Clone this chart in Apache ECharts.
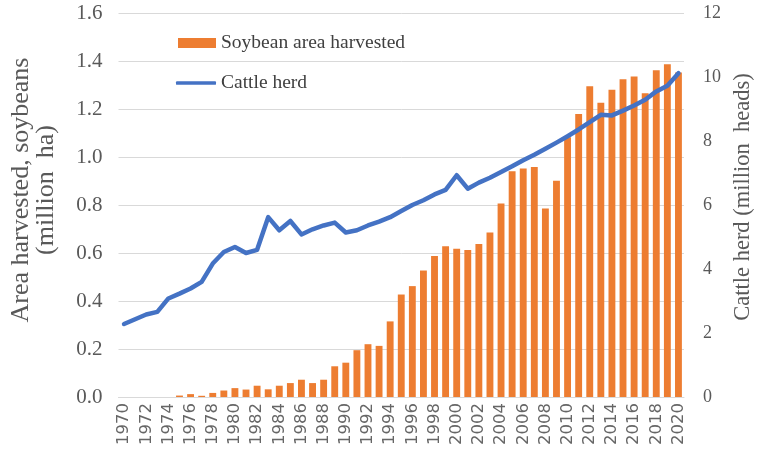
<!DOCTYPE html>
<html>
<head>
<meta charset="utf-8">
<script src="https://cdn.jsdelivr.net/npm/echarts@6/dist/echarts.min.js"></script>
<style>
  html, body { margin: 0; padding: 0; background: #fff; }
  #chart { width: 765px; height: 454px; }
</style>
</head>
<body>
<div id="chart"></div>
<script>
// years 1970 - 2020
var years = [];
for (var y = 1970; y <= 2020; y++) { years.push(String(y)); }

// soybean area harvested, million ha
var soyArea = [
    0, 0, 0, 0, 0,
    0.006, 0.012, 0.005, 0.017, 0.027,
    0.037, 0.031, 0.047, 0.032, 0.047,
    0.058, 0.072, 0.058, 0.072, 0.128,
    0.143, 0.195, 0.22, 0.213, 0.315,
    0.427, 0.462, 0.527, 0.587, 0.628,
    0.618, 0.613, 0.638, 0.685, 0.806,
    0.941, 0.952, 0.958, 0.785, 0.901,
    1.082, 1.179, 1.295, 1.226, 1.28,
    1.324, 1.335, 1.266, 1.361, 1.386,
    1.352
];

// cattle herd, million heads
var cattle = [
    2.28, 2.43, 2.58, 2.66, 3.08,
    3.23, 3.39, 3.6, 4.17, 4.53,
    4.69, 4.5, 4.6, 5.62, 5.21,
    5.5, 5.08, 5.24, 5.36, 5.45,
    5.14, 5.21, 5.36, 5.48, 5.62,
    5.81, 6.0, 6.15, 6.33, 6.47,
    6.93, 6.51, 6.7, 6.85, 7.03,
    7.21, 7.4, 7.57, 7.76, 7.95,
    8.15, 8.36, 8.59, 8.82, 8.8,
    8.95, 9.11, 9.29, 9.55, 9.73,
    10.12
];

var serif = '"Liberation Serif", "DejaVu Serif", serif';
var grey = '#595959';
var legendText = {
    fontFamily: serif,
    fontSize: 19.5,
    lineHeight: 20,
    color: '#404040'
};

var option = {
    animation: false,
    grid: {
        top: 13,
        left: 116,
        right: 81,
        bottom: 57
    },
    legend: [
        {
            left: 178,
            top: 33,
            padding: 0,
            itemWidth: 38,
            itemHeight: 10,
            icon: 'rect',
            textStyle: legendText,
            data: ['Soybean area harvested']
        },
        {
            left: 176,
            top: 73,
            padding: 0,
            itemWidth: 40,
            itemHeight: 3.5,
            icon: 'roundRect',
            textStyle: legendText,
            data: ['Cattle herd']
        }
    ],
    xAxis: {
        type: 'category',
        data: years,
        boundaryGap: true,
        axisTick: { show: false },
        axisLine: { lineStyle: { color: '#d9d9d9' } },
        axisLabel: {
            interval: 1,
            rotate: 90,
            margin: 6,
            fontFamily: '"DejaVu Sans", sans-serif',
            fontSize: 16.5,
            color: '#666666'
        }
    },
    yAxis: [
        {
            type: 'value',
            min: 0,
            max: 1.6,
            interval: 0.2,
            name: 'Area harvested, soybeans\n(million  ha)',
            nameLocation: 'middle',
            nameRotate: 90,
            nameGap: 60,
            nameTextStyle: {
                fontFamily: serif,
                fontSize: 26,
                color: grey,
                lineHeight: 25,
                padding: [0, 0, 0, 30]
            },
            axisLine: { show: false },
            axisTick: { show: false },
            axisLabel: {
                margin: 16,
                fontFamily: serif,
                fontSize: 21,
                color: grey,
                formatter: function (v) { return v.toFixed(1); }
            },
            splitLine: { lineStyle: { color: '#d9d9d9' } }
        },
        {
            type: 'value',
            min: 0,
            max: 12,
            interval: 2,
            position: 'right',
            name: 'Cattle herd (million  heads)',
            nameLocation: 'middle',
            nameRotate: 90,
            nameGap: 45,
            nameTextStyle: {
                fontFamily: serif,
                fontSize: 22.5,
                color: grey,
                padding: [0, 0, 0, 16]
            },
            axisLine: { show: false },
            axisTick: { show: false },
            axisLabel: {
                margin: 19,
                fontFamily: serif,
                fontSize: 18,
                color: grey
            },
            splitLine: { show: false }
        }
    ],
    series: [
        {
            name: 'Soybean area harvested',
            type: 'bar',
            yAxisIndex: 0,
            barWidth: '62%',
            itemStyle: { color: '#ED7D31' },
            data: soyArea
        },
        {
            name: 'Cattle herd',
            type: 'line',
            yAxisIndex: 1,
            symbol: 'none',
            lineStyle: { color: '#4472C4', width: 4.5, cap: 'round', join: 'round' },
            itemStyle: { color: '#4472C4' },
            data: cattle
        }
    ]
};

var chart = echarts.init(document.getElementById('chart'));
chart.setOption(option);
window.addEventListener('resize', function () { chart.resize(); });
</script>
</body>
</html>
